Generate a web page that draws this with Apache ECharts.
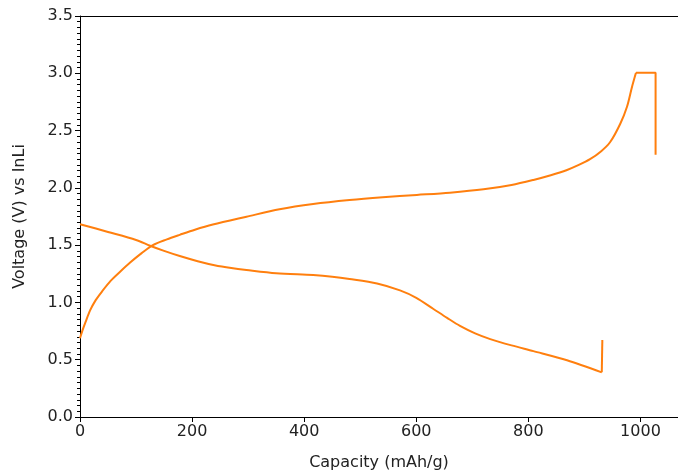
<!DOCTYPE html>
<html>
<head>
<meta charset="utf-8">
<script src="https://cdn.jsdelivr.net/npm/echarts@6/dist/echarts.min.js"></script>
<style>
  html, body { margin: 0; padding: 0; background: #fff; }
  #chart { width: 678px; height: 472px; }
</style>
</head>
<body>
<div id="chart"></div>
<script>
// charge curve (capacity mAh/g, voltage V)
const chargeCap = [0, 4, 10, 18, 28, 40, 55, 72, 90, 110, 130, 155, 178, 205, 237, 297, 356, 416, 481, 540, 601, 660, 720, 770, 809, 840, 869, 890, 910, 930, 946, 964, 976, 985, 992];
const chargeV   = [0.687, 0.75, 0.83, 0.93, 1.02, 1.10, 1.19, 1.27, 1.35, 1.43, 1.50, 1.55, 1.59, 1.635, 1.68, 1.748, 1.813, 1.859, 1.894, 1.918, 1.938, 1.958, 1.987, 2.025, 2.069, 2.11, 2.156, 2.20, 2.25, 2.32, 2.40, 2.56, 2.708, 2.883, 3.005];
// constant-voltage hold and rest at end of charge
const chargeTailCap = [992, 1027, 1027];
const chargeTailV   = [3.005, 3.005, 2.29];

// discharge curve
const dischargeCap = [0, 50, 100, 125, 150, 178, 210, 240, 270, 297, 350, 416, 450, 481, 530, 571, 600, 630, 655, 678, 705, 732, 770, 809, 869, 931];
const dischargeV   = [1.683, 1.615, 1.545, 1.495, 1.45, 1.405, 1.36, 1.325, 1.30, 1.283, 1.255, 1.239, 1.225, 1.205, 1.165, 1.105, 1.04, 0.945, 0.865, 0.795, 0.73, 0.68, 0.625, 0.575, 0.495, 0.39];
// rest at end of discharge
const dischargeTailCap = [931, 932];
const dischargeTailV   = [0.39, 0.672];

const lineColor = '#ff7f0e';
const font = 'DejaVu Sans';
const textColor = '#222';

const pairs = (xs, ys) => xs.map((x, i) => [x, ys[i]]);
const lineSeries = (data, smooth) => ({
    type: 'line', data, smooth, showSymbol: false,
    lineStyle: { color: lineColor, width: 2 }
});

const chart = echarts.init(document.getElementById('chart'));
chart.setOption({
    animation: false,
    backgroundColor: '#fff',
    grid: { left: 80, top: 16, right: 0, bottom: 55, outerBoundsMode: 'none' },
    xAxis: [
        {
            type: 'value', min: 0, max: 1067, interval: 200,
            name: 'Capacity (mAh/g)', nameLocation: 'middle', nameGap: 38,
            nameTextStyle: { fontFamily: font, fontSize: 16, color: textColor },
            axisLine: { lineStyle: { color: '#000', width: 1 } },
            axisTick: { length: 5, lineStyle: { color: '#000' } },
            axisLabel: { fontFamily: font, fontSize: 16, color: textColor, margin: 7, showMaxLabel: false, formatter: v => String(v) },
            splitLine: { show: false }
        },
        {
            // top spine only
            type: 'value', position: 'top', min: 0, max: 1067,
            axisLine: { show: true, lineStyle: { color: '#000', width: 1 } },
            axisTick: { show: false }, axisLabel: { show: false }, splitLine: { show: false }
        }
    ],
    yAxis: {
        type: 'value', min: 0, max: 3.5, interval: 0.5,
        name: 'Voltage (V) vs InLi', nameLocation: 'middle', nameGap: 52, nameRotate: 90,
        nameTextStyle: { fontFamily: font, fontSize: 16, color: textColor },
        axisLine: { show: true, lineStyle: { color: '#000', width: 1 } },
        axisTick: { show: true, length: 5, lineStyle: { color: '#000' } },
        minorTick: { show: true, splitNumber: 10, length: 3, lineStyle: { color: '#000' } },
        axisLabel: { fontFamily: font, fontSize: 16, color: textColor, margin: 7, formatter: v => v.toFixed(1) },
        splitLine: { show: false }
    },
    series: [
        lineSeries(pairs(chargeCap, chargeV), 0.3),
        lineSeries(pairs(chargeTailCap, chargeTailV), false),
        lineSeries(pairs(dischargeCap, dischargeV), 0.3),
        lineSeries(pairs(dischargeTailCap, dischargeTailV), false)
    ]
});
</script>
</body>
</html>
